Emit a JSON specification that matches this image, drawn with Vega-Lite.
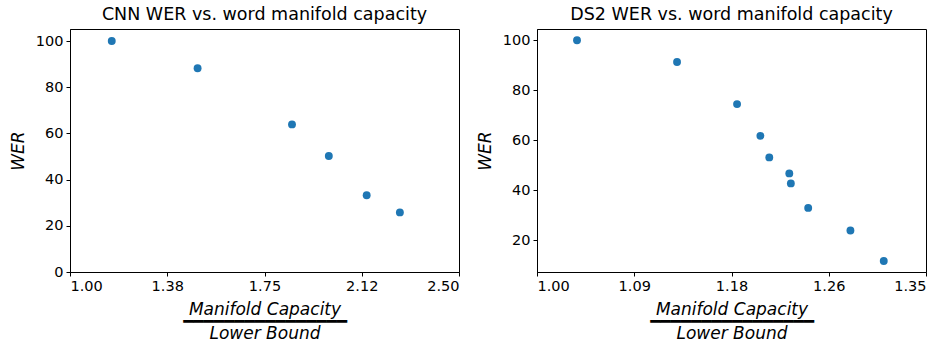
{
  "$schema": "https://vega.github.io/schema/vega-lite/v6.json",
  "padding": {"left": 8, "top": 5, "right": 5, "bottom": 0},
  "background": "white",
  "datasets": {
    "cnn": [
      {"ratio": 1.161, "wer": 100},
      {"ratio": 1.492, "wer": 88.2},
      {"ratio": 1.856, "wer": 63.9},
      {"ratio": 1.998, "wer": 50.2},
      {"ratio": 2.144, "wer": 33.2},
      {"ratio": 2.272, "wer": 25.8}
    ],
    "ds2": [
      {"ratio": 1.036, "wer": 100},
      {"ratio": 1.126, "wer": 91.3},
      {"ratio": 1.180, "wer": 74.5},
      {"ratio": 1.201, "wer": 61.8},
      {"ratio": 1.209, "wer": 53.2},
      {"ratio": 1.227, "wer": 46.8},
      {"ratio": 1.2284, "wer": 42.8},
      {"ratio": 1.244, "wer": 33.0},
      {"ratio": 1.282, "wer": 24.0},
      {"ratio": 1.312, "wer": 11.8}
    ]
  },
  "hconcat": [
    {
      "width": 389,
      "height": 243,
      "title": "CNN WER vs. word manifold capacity",
      "data": {"name": "cnn"},
      "mark": {"type": "point", "filled": true, "size": 62, "color": "#1f77b4", "opacity": 1},
      "encoding": {
        "x": {
          "field": "ratio", "type": "quantitative",
          "scale": {"domain": [1.0, 2.5], "nice": false, "zero": false},
          "axis": {
            "values": [1.0, 1.375, 1.75, 2.125, 2.5],
            "labelExpr": "datum.value == 2.125 ? '2.12' : format(datum.value, '.2f')",
            "title": ["Manifold Capacity", "━━━━━━━━━━━━━━━━", "Lower Bound"]
          }
        },
        "y": {
          "field": "wer", "type": "quantitative",
          "scale": {"domain": [0, 105.2], "nice": false, "zero": false},
          "axis": {"values": [0, 20, 40, 60, 80, 100], "title": "WER"}
        }
      }
    },
    {
      "width": 389,
      "height": 243,
      "title": "DS2 WER vs. word manifold capacity",
      "data": {"name": "ds2"},
      "mark": {"type": "point", "filled": true, "size": 62, "color": "#1f77b4", "opacity": 1},
      "encoding": {
        "x": {
          "field": "ratio", "type": "quantitative",
          "scale": {"domain": [1.0, 1.35], "nice": false, "zero": false},
          "axis": {
            "values": [1.0, 1.0875, 1.175, 1.2625, 1.35],
            "format": ".2f",
            "title": ["Manifold Capacity", "━━━━━━━━━━━━━━━━", "Lower Bound"]
          }
        },
        "y": {
          "field": "wer", "type": "quantitative",
          "scale": {"domain": [7.4, 104.5], "nice": false, "zero": false},
          "axis": {"values": [20, 40, 60, 80, 100], "title": "WER"}
        }
      }
    }
  ],
  "spacing": 15,
  "config": {
    "font": "DejaVu Sans",
    "view": {"stroke": "black", "strokeWidth": 1},
    "title": {"fontSize": 17.5, "fontWeight": "normal", "color": "black", "offset": 6},
    "axis": {
      "grid": false,
      "domainColor": "black",
      "tickColor": "black",
      "tickSize": 4,
      "labelFontSize": 14.5,
      "labelColor": "black",
      "labelPadding": 3,
      "titleFontSize": 17,
      "titleFontWeight": "normal",
      "titleFontStyle": "italic",
      "titleColor": "black"
    },
    "axisX": {"titleLineHeight": 12, "titlePadding": 9},
    "axisY": {"titlePadding": 8}
  }
}
